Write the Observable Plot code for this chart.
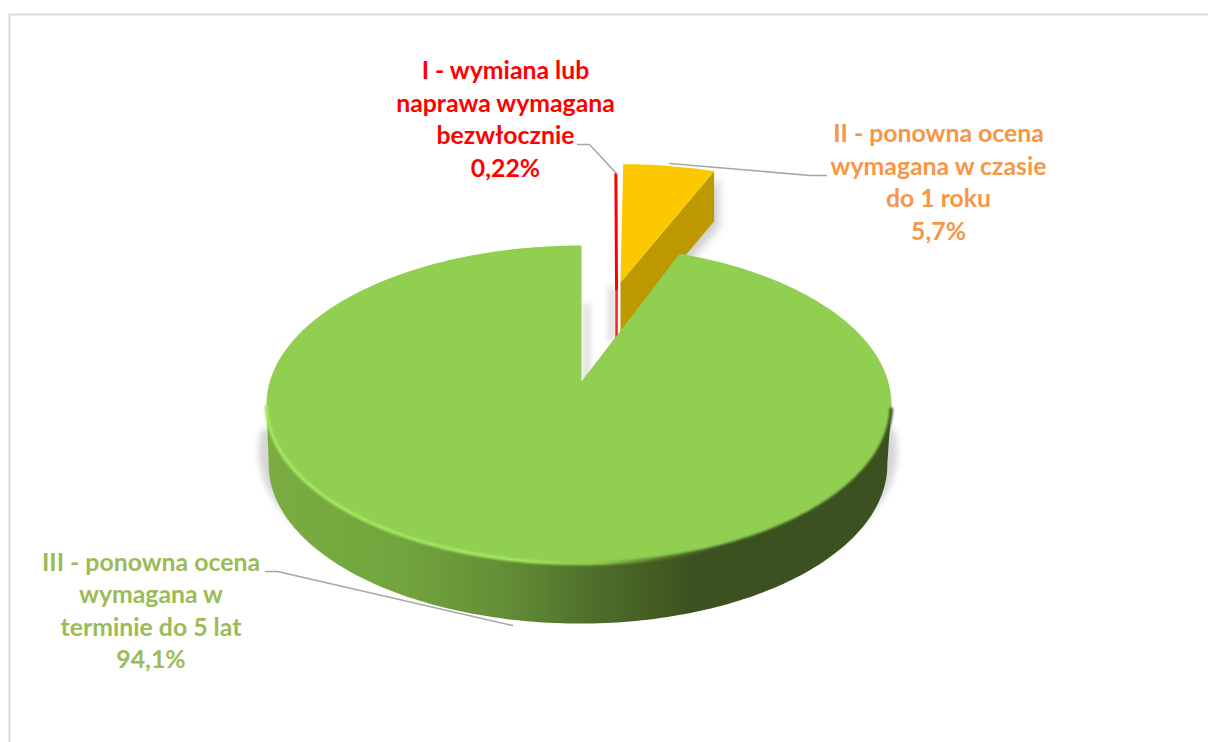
<!DOCTYPE html>
<html><head><meta charset="utf-8">
<script src="https://cdn.jsdelivr.net/npm/d3@7"></script>
<script src="https://cdn.jsdelivr.net/npm/@observablehq/plot@0.6"></script>
<style>html,body{margin:0;padding:0;background:#fff}svg{display:block}</style>
</head><body><div id="chart"></div>
<script>
// Data
const categories = ["I - wymiana lub\nnaprawa wymagana\nbezwłocznie",
  "II - ponowna ocena\nwymagana w czasie\ndo 1 roku",
  "III - ponowna ocena\nwymagana w\nterminie do 5 lat"];
const shares = [0.22, 5.7, 94.1];
const labelColors = ["#ff0000", "#f79646", "#9bbb59"];
// Layout of the drawing
const W = 1208, H = 742;
const cx = 581, cy = 381, Rl = 311.7, Rr = 306.7, Q = 155.7, p = 0.1447;
const explodeU = [0.125, 0.14, 0], explodeV = [0.65, 0.70, 0];
const rimScale = [1, 1.05, 1], rimShift = [0, 0.016, 0];
const labelX = [505, 938, 150.5], labelY = [117, 180, 608.5];

const total = d3.sum(shares);
const cum = d3.cumsum(shares).map(c => c / total * 360);
const starts = [0, cum[0], cum[1]], ends = [cum[0], cum[1], 360];
const rad = d => d * Math.PI / 180;
function proj(u, v, depth = 0, xs = 1) {
  const s = 1 / (1 + p * v);
  const x = cx + (u < 0 ? Rl : Rr) * u * s;
  return {x: cx + (x - cx) * xs - (xs !== 1 ? 1 : 0),
          y: cy - Q * v * s + depth};
}
const rim = (deg, i, depth, xs) => proj(rimScale[i] * Math.sin(rad(deg)) + explodeU[i] + rimShift[i],
                                        rimScale[i] * Math.cos(rad(deg)) + explodeV[i], depth, xs);
const apex = (i, depth, xs) => proj(explodeU[i], explodeV[i], depth, xs);
const range = (a, b) => { const n = Math.ceil(Math.abs(b - a)); return d3.range(n + 1).map(k => a + (b - a) * k / n); };
const arc = (a, b, i, depth = 0, xs = 1) => range(a, b).map(d => rim(d, i, depth, xs));

const G = 2;
const topFace = i => [apex(i), ...arc(starts[i], ends[i], i)];
const greenSide = [...arc(98, 262, G), ...arc(262, 98, G, 60, 0.99)];
const shadow = arc(90, 270, G, 47, 1.022).map(d => ({x: d.x, y: Math.min(d.y, 592)}));
const yellowTopEnd = rim(ends[1], 1);
const yellowSide = [apex(1), yellowTopEnd, rim(ends[1], 1, 50), apex(1, 50)];
const yellowShadow = yellowSide.map(d => ({x: d.x + 5, y: d.y + 6}));
const redFace = [apex(0), rim(ends[0], 0)];
const redSide = [apex(0), apex(0, 50)];
const redShadow = redSide.map(d => ({x: d.x - 5, y: d.y}));
const gapShadow = [{...apex(G), x: cx + 5}, {x: cx + 5, y: cy - 75}];
const highlight = arc(100, 261, G);

const leaders = [
  [[577, 144], [589, 144], [616, 173]],
  [[669, 163], [810, 175], [826, 175]],
  [[265, 571], [277, 571], [512, 625]]
];
const frame = [[9, H], [9, 14], [W, 14]];

function defs() {
  const d = d3.create("svg:defs");
  const grad = (id, stops) => {
    const g = d.append("linearGradient").attr("id", id).attr("gradientUnits", "userSpaceOnUse")
      .attr("x1", 266).attr("x2", 891).attr("y1", 0).attr("y2", 0);
    stops.forEach(([x, c]) => g.append("stop").attr("offset", (x - 266) / 625).attr("stop-color", c));
  };
  grad("side", [[266, "#7aac43"], [400, "#73a53e"], [500, "#648f36"], [590, "#4f6f2b"], [670, "#41591f"], [690, "#3b5220"], [891, "#3b5220"]]);
  grad("edge", [[266, "#a4e85e"], [520, "#a4e85e"], [600, "#8fc64d"], [660, "#55752e"], [720, "#3b5220"], [891, "#3b5220"]]);
  return d.node();
}

const shape = (pts, fill, extra = {}) => Plot.line(pts, {x: "x", y: "y", fill, stroke: "none", ...extra});
const stroke = (pts, color, width, extra = {}) => Plot.line(pts, {x: "x", y: "y", stroke: color, strokeWidth: width, ...extra});

const plot = Plot.plot({
  width: W, height: H, margin: 0,
  x: {domain: [0, W], range: [0, W], axis: null},
  y: {domain: [0, H], range: [0, H], axis: null},
  marks: [
    defs,
    Plot.line(frame, {x: d => d[0], y: d => d[1], stroke: "#d9d9d9", strokeWidth: 2}),
    shape(shadow, "#d6d6d6", {imageFilter: "blur(3px)"}),
    shape(yellowShadow, "#cfcfcf", {imageFilter: "blur(4px)"}),
    stroke(redShadow, "#d8d8d8", 6, {imageFilter: "blur(3px)"}),
    stroke(gapShadow, "#dcdcdc", 7, {imageFilter: "blur(3px)"}),
    shape(yellowSide, "#bd9800"),
    shape(topFace(1), "#fcc900"),
    stroke(redSide, "#f0222a", 2.5),
    stroke(redFace, "#ff0000", 3),
    shape(greenSide, "url(#side)"),
    shape(topFace(G), "#90cf50"),
    stroke(highlight, "url(#edge)", 3.5, {imageFilter: "blur(1px)"}),
    ...leaders.map(l => Plot.line(l, {x: d => d[0], y: d => d[1], stroke: "#a6a6a6", strokeWidth: 1.5})),
    Plot.text(categories.map((c, i) => ({t: c + "\n" + String(shares[i]).replace(".", ",") + "%", i})), {
      x: d => labelX[d.i], y: d => labelY[d.i], text: "t",
      fill: d => labelColors[d.i], fontFamily: "Lato", fontWeight: "bold", fontSize: 24.8,
      lineHeight: 1.315, lineAnchor: "middle", textAnchor: "middle"
    })
  ]
});
document.getElementById("chart").append(plot);
</script></body></html>
